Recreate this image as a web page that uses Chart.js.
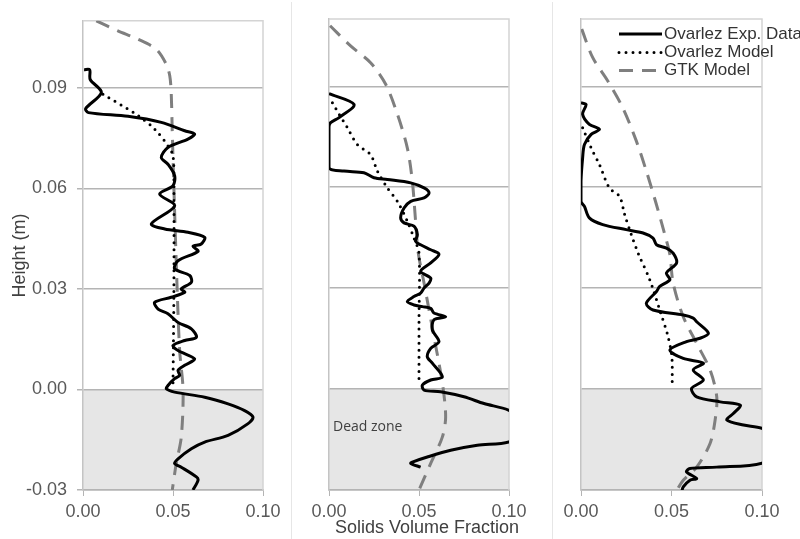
<!DOCTYPE html>
<html>
<head>
<meta charset="utf-8">
<title>Solids volume fraction profiles</title>
<script src="https://cdn.jsdelivr.net/npm/chart.js@4.4.1/dist/chart.umd.min.js"></script>
<style>
  html, body { margin: 0; padding: 0; background: #fff; }
  #wrap { position: relative; width: 800px; height: 539px; overflow: hidden; background: #fff; }
  .panel { position: absolute; top: 0; height: 539px; }
  #p1 { left: 0; width: 291px; }
  #p2 { left: 292px; width: 260px; }
  #p3 { left: 553px; width: 247px; }
  .sep { position: absolute; top: 2px; width: 1px; height: 537px; background: #e6e6e6; }
</style>
</head>
<body>
<div id="wrap">
  <div class="panel" id="p1"><canvas id="c1"></canvas></div>
  <div class="sep" style="left:291px"></div>
  <div class="panel" id="p2"><canvas id="c2"></canvas></div>
  <div class="sep" style="left:552px"></div>
  <div class="panel" id="p3"><canvas id="c3"></canvas></div>
</div>
<script>
// Axis ticks and labels
const xTicks = [0, 0.05, 0.1];
const yTicks = [-0.03, 0, 0.03, 0.06, 0.09];
const seriesLabels = ['Ovarlez Exp. Data', 'Ovarlez Model', 'GTK Model'];

// Panel 1 - [solids fraction, height]
const exp1 = [[0.0006, 0.0954], [0.0037, 0.0954], [0.0040, 0.0925], [0.0102, 0.0886], [0.0015, 0.0838], [0.0030, 0.0826],
  [0.0250, 0.0815], [0.0435, 0.0797], [0.0565, 0.0772], [0.0620, 0.0762], [0.0583, 0.0747], [0.0472, 0.0722],
  [0.0435, 0.0692], [0.0472, 0.0672], [0.0509, 0.0638], [0.0500, 0.0608], [0.0426, 0.0583], [0.0509, 0.0548],
  [0.0380, 0.0494], [0.0454, 0.0479], [0.0583, 0.0469], [0.0676, 0.0454], [0.0657, 0.0434], [0.0611, 0.0427],
  [0.0639, 0.0412], [0.0528, 0.0384], [0.0509, 0.0360], [0.0593, 0.0340], [0.0602, 0.0320], [0.0546, 0.0300],
  [0.0565, 0.0290], [0.0490, 0.0275], [0.0398, 0.0260], [0.0417, 0.0240], [0.0472, 0.0226], [0.0528, 0.0200],
  [0.0602, 0.0181], [0.0630, 0.0156], [0.0565, 0.0146], [0.0500, 0.0131], [0.0528, 0.0116], [0.0620, 0.0091],
  [0.0565, 0.0072], [0.0528, 0.0057], [0.0537, 0.0042], [0.0509, 0.0032], [0.0472, 0.0012], [0.0463, 0.0002],
  [0.0509, -0.0008], [0.0676, -0.0023], [0.0806, -0.0043], [0.0898, -0.0063], [0.0944, -0.0082], [0.0917, -0.0102],
  [0.0806, -0.0137], [0.0676, -0.0157], [0.0602, -0.0177], [0.0528, -0.0207], [0.0509, -0.0221], [0.0546, -0.0232],
  [0.0630, -0.0261], [0.0639, -0.0271], [0.0611, -0.0300]];
const model1 = [[0.0111, 0.0881], [0.0306, 0.0817], [0.0398, 0.0777], [0.0472, 0.0727], [0.0500, 0.0697],
  [0.0505, 0.0600], [0.0505, 0.0300], [0.0500, 0.0017]];
const gtk1 = [[0.0074, 0.1100], [0.0194, 0.1070], [0.0306, 0.1045], [0.0407, 0.1015], [0.0463, 0.0970], [0.0482, 0.0936],
  [0.0490, 0.0886], [0.0496, 0.0767], [0.0504, 0.0618], [0.0522, 0.0315], [0.0537, 0.0116], [0.0556, -0.0003],
  [0.0546, -0.0142], [0.0518, -0.0221], [0.0496, -0.0300]];

// Panel 2
const exp2 = [[0.0000, 0.0878], [0.0139, 0.0846], [0.0056, 0.0807], [0.0009, 0.0792], [0.0000, 0.0780], [0.0000, 0.0658],
  [0.0083, 0.0648], [0.0194, 0.0643], [0.0250, 0.0628], [0.0324, 0.0623], [0.0454, 0.0613], [0.0528, 0.0598],
  [0.0556, 0.0583], [0.0528, 0.0568], [0.0454, 0.0558], [0.0417, 0.0538], [0.0398, 0.0509], [0.0417, 0.0494],
  [0.0472, 0.0484], [0.0491, 0.0459], [0.0481, 0.0439], [0.0509, 0.0429], [0.0565, 0.0414], [0.0611, 0.0401],
  [0.0565, 0.0375], [0.0509, 0.0350], [0.0565, 0.0330], [0.0556, 0.0315], [0.0528, 0.0300], [0.0509, 0.0285],
  [0.0472, 0.0275], [0.0435, 0.0260], [0.0472, 0.0250], [0.0519, 0.0245], [0.0565, 0.0240], [0.0583, 0.0226],
  [0.0648, 0.0215], [0.0583, 0.0206], [0.0574, 0.0176], [0.0611, 0.0141], [0.0565, 0.0121], [0.0546, 0.0096],
  [0.0574, 0.0077], [0.0630, 0.0036], [0.0565, 0.0027], [0.0519, 0.0012], [0.0528, -0.0003], [0.0620, -0.0008],
  [0.0750, -0.0023], [0.0861, -0.0043], [0.1000, -0.0063], [0.1150, -0.0110], [0.1000, -0.0157], [0.0824, -0.0167],
  [0.0676, -0.0182], [0.0546, -0.0202], [0.0463, -0.0217], [0.0454, -0.0221], [0.0509, -0.0232]];
const model2 = [[0.0019, 0.0851], [0.0056, 0.0817], [0.0102, 0.0777], [0.0157, 0.0727], [0.0231, 0.0697], [0.0269, 0.0648],
  [0.0324, 0.0598], [0.0380, 0.0558], [0.0435, 0.0499], [0.0472, 0.0449], [0.0500, 0.0404], [0.0500, 0.0200],
  [0.0500, 0.0022]];
const gtk2 = [[0.0006, 0.1080], [0.0120, 0.1020], [0.0231, 0.0970], [0.0315, 0.0906], [0.0380, 0.0817], [0.0435, 0.0717],
  [0.0463, 0.0618], [0.0481, 0.0499], [0.0496, 0.0404], [0.0528, 0.0315], [0.0583, 0.0156], [0.0630, 0.0017],
  [0.0648, -0.0082], [0.0630, -0.0142], [0.0565, -0.0221], [0.0500, -0.0300]];

// Panel 3
const exp3 = [[0.0000, 0.0851], [0.0028, 0.0846], [0.0009, 0.0817], [0.0046, 0.0787], [0.0102, 0.0772], [0.0056, 0.0757],
  [0.0019, 0.0727], [0.0009, 0.0687], [0.0000, 0.0618], [0.0000, 0.0558], [0.0019, 0.0543], [0.0046, 0.0509],
  [0.0120, 0.0489], [0.0250, 0.0474], [0.0343, 0.0464], [0.0398, 0.0449], [0.0417, 0.0429], [0.0472, 0.0419],
  [0.0509, 0.0404], [0.0528, 0.0375], [0.0472, 0.0345], [0.0491, 0.0325], [0.0435, 0.0305], [0.0417, 0.0290],
  [0.0361, 0.0255], [0.0398, 0.0235], [0.0565, 0.0220], [0.0620, 0.0211], [0.0639, 0.0200], [0.0704, 0.0166],
  [0.0657, 0.0151], [0.0583, 0.0141], [0.0491, 0.0116], [0.0565, 0.0091], [0.0676, 0.0077], [0.0620, 0.0057],
  [0.0676, 0.0027], [0.0611, 0.0002], [0.0639, -0.0023], [0.0769, -0.0038], [0.0880, -0.0048], [0.0843, -0.0072],
  [0.0806, -0.0092], [0.0898, -0.0107], [0.1000, -0.0117], [0.1150, -0.0165], [0.1000, -0.0220], [0.0750, -0.0232],
  [0.0602, -0.0236], [0.0583, -0.0246], [0.0639, -0.0266], [0.0602, -0.0271], [0.0565, -0.0291], [0.0556, -0.0306]];
const model3 = [[0.0009, 0.0777], [0.0056, 0.0717], [0.0102, 0.0667], [0.0157, 0.0598], [0.0213, 0.0573], [0.0241, 0.0519],
  [0.0278, 0.0459], [0.0315, 0.0405], [0.0380, 0.0325], [0.0435, 0.0235], [0.0481, 0.0156], [0.0502, 0.0096],
  [0.0504, 0.0017]];
const gtk3 = [[0.0004, 0.1070], [0.0065, 0.0985], [0.0148, 0.0916], [0.0231, 0.0836], [0.0306, 0.0737], [0.0361, 0.0648],
  [0.0417, 0.0548], [0.0463, 0.0459], [0.0491, 0.0400], [0.0509, 0.0315], [0.0565, 0.0215], [0.0639, 0.0136],
  [0.0713, 0.0057], [0.0750, -0.0023], [0.0741, -0.0092], [0.0713, -0.0162], [0.0639, -0.0232], [0.0565, -0.0271],
  [0.0519, -0.0310]];

const FONT = "'Liberation Sans', Arial, sans-serif";
const TICK_COLOR = '#595959';
const GRID_COLOR = '#b4b4b4';

function toPoints(arr) {
    return arr.map(p => ({ x: p[0], y: p[1] }));
}

// Shading of the dead zone, plot frame, legend and extra labels
const panelDecor = {
    id: 'panelDecor',
    beforeDraw(chart) {
        const { ctx, chartArea: a, scales } = chart;
        const y0 = scales.y.getPixelForValue(0);
        ctx.save();
        ctx.fillStyle = '#e6e6e6';
        ctx.fillRect(a.left, y0, a.right - a.left, a.bottom - y0);
        ctx.restore();
    },
    beforeDatasetsDraw(chart) {
        const { ctx, chartArea: a } = chart;
        ctx.save();
        ctx.strokeStyle = '#d4d4d4';
        ctx.lineWidth = 1.5;
        ctx.beginPath();
        ctx.moveTo(a.left, a.top);
        ctx.lineTo(a.right, a.top);
        ctx.lineTo(a.right, a.bottom);
        ctx.stroke();
        ctx.restore();
    },
    afterDraw(chart, args, opts) {
        const { ctx, chartArea: a } = chart;
        ctx.save();
        if (opts.deadZone) {
            ctx.fillStyle = '#404040';
            ctx.font = "14px 'Open Sans', sans-serif";
            ctx.textAlign = 'left';
            ctx.textBaseline = 'middle';
            ctx.fillText('Dead zone', a.left + 4, 427);
        }
        if (opts.xTitle) {
            ctx.fillStyle = '#404040';
            ctx.font = '18px ' + FONT;
            ctx.textAlign = 'center';
            ctx.textBaseline = 'middle';
            ctx.fillText('Solids Volume Fraction', 135, 528);
        }
        if (opts.legend) {
            const rows = [34, 52.5, 70.5];
            chart.data.datasets.forEach((ds, i) => {
                const y = rows[i];
                ctx.strokeStyle = ds.borderColor;
                ctx.lineWidth = ds.borderWidth;
                ctx.lineCap = ds.borderCapStyle || 'butt';
                ctx.setLineDash(ds.borderDash || []);
                ctx.beginPath();
                ctx.moveTo(66, y);
                ctx.lineTo(109, y);
                ctx.stroke();
                ctx.setLineDash([]);
                ctx.fillStyle = '#333333';
                ctx.font = '17px ' + FONT;
                ctx.textAlign = 'left';
                ctx.textBaseline = 'middle';
                ctx.fillText(ds.label, 111, y);
            });
        }
        ctx.restore();
    }
};

function makePanel(canvasId, exp, model, gtk, cfg) {
    const ctx = document.getElementById(canvasId).getContext('2d');
    return new Chart(ctx, {
        type: 'scatter',
        data: {
            datasets: [{
                label: seriesLabels[0],
                data: toPoints(exp),
                showLine: true,
                borderColor: '#000000',
                borderWidth: 3,
                pointRadius: 0,
                tension: 0.3
            }, {
                label: seriesLabels[1],
                data: toPoints(model),
                showLine: true,
                borderColor: '#000000',
                borderWidth: 3,
                borderDash: [0, 7],
                borderCapStyle: 'round',
                pointRadius: 0,
                tension: 0.3
            }, {
                label: seriesLabels[2],
                data: toPoints(gtk),
                showLine: true,
                borderColor: '#7f7f7f',
                borderWidth: 3,
                borderDash: [14, 9],
                pointRadius: 0,
                tension: 0.3
            }]
        },
        options: {
            responsive: true,
            maintainAspectRatio: false,
            animation: false,
            layout: { padding: { top: 19, right: cfg.padRight, left: 0, bottom: 0 } },
            plugins: {
                legend: { display: false },
                tooltip: { enabled: false },
                panelDecor: cfg.decor
            },
            scales: {
                x: {
                    type: 'linear',
                    min: 0,
                    max: 0.1,
                    afterBuildTicks: s => { s.ticks = xTicks.map(v => ({ value: v })); },
                    afterFit: s => { s.height = 49; },
                    grid: { drawOnChartArea: false, drawTicks: true, tickLength: 6, color: GRID_COLOR },
                    border: { color: GRID_COLOR, width: 1.5 },
                    ticks: {
                        padding: 5,
                        maxRotation: 0,
                        color: TICK_COLOR,
                        font: { family: FONT, size: 18 },
                        callback: v => v.toFixed(2)
                    }
                },
                y: {
                    type: 'linear',
                    min: -0.03,
                    max: 0.11,
                    afterBuildTicks: s => { s.ticks = yTicks.map(v => ({ value: v })); },
                    afterFit: s => { s.width = cfg.yWidth; },
                    grid: { color: GRID_COLOR, lineWidth: 1.5, drawTicks: cfg.showY, tickLength: 6 },
                    border: { color: '#c4c4c4', width: 1.5 },
                    ticks: {
                        display: cfg.showY,
                        padding: 10,
                        color: TICK_COLOR,
                        font: { family: FONT, size: 18 },
                        callback: v => v.toFixed(2)
                    },
                    title: {
                        display: cfg.showY,
                        text: 'Height (m)',
                        color: '#404040',
                        font: { family: FONT, size: 18 },
                        padding: { top: 9, bottom: 0 }
                    }
                }
            }
        },
        plugins: [panelDecor]
    });
}

window.addEventListener('DOMContentLoaded', () => {
    makePanel('c1', exp1, model1, gtk1, { yWidth: 83, padRight: 28, showY: true, decor: {} });
    makePanel('c2', exp2, model2, gtk2, { yWidth: 37, padRight: 43, showY: false, decor: { deadZone: true, xTitle: true } });
    makePanel('c3', exp3, model3, gtk3, { yWidth: 28, padRight: 38, showY: false, decor: { legend: true } });
});
</script>
</body>
</html>
